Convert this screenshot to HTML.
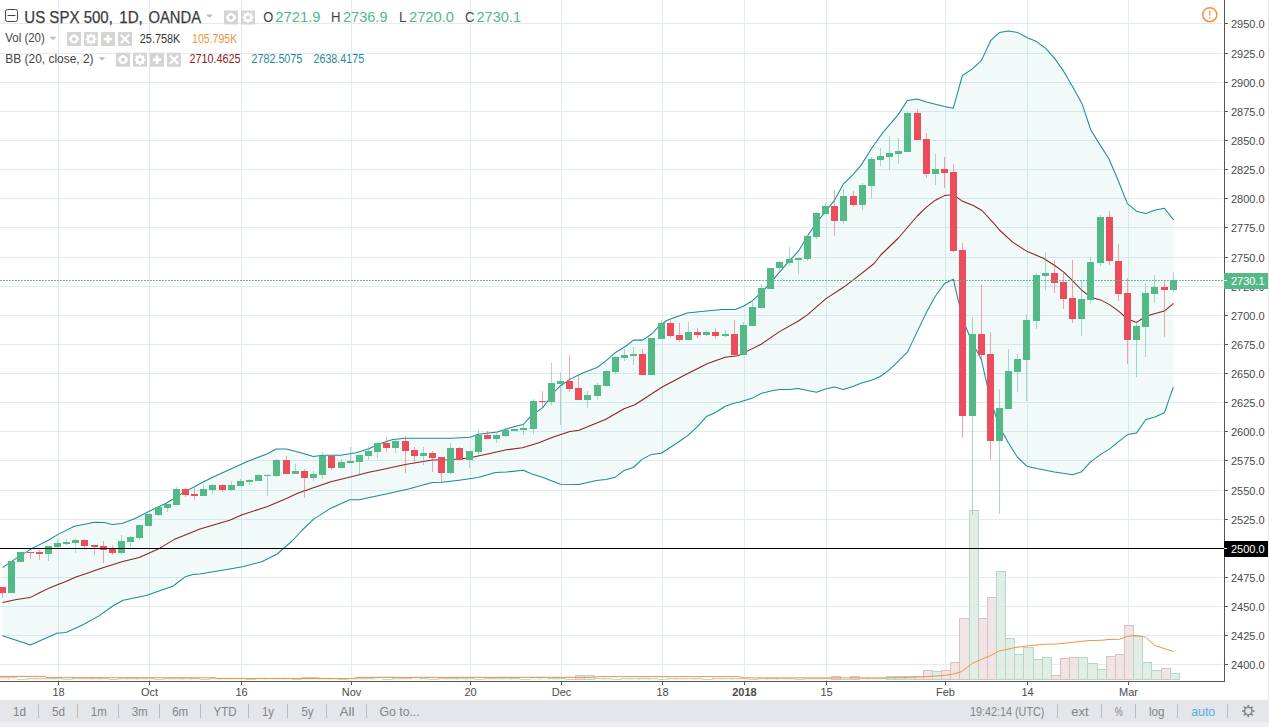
<!DOCTYPE html>
<html><head><meta charset="utf-8"><title>US SPX 500, 1D, OANDA</title>
<style>html,body{margin:0;padding:0;background:#fff;overflow:hidden}svg{display:block}text{white-space:pre}</style>
</head><body>
<svg width="1269" height="727" viewBox="0 0 1269 727" style="display:block">
<rect width="1269" height="727" fill="#fff"/>
<g shape-rendering="crispEdges" fill="#E1ECF2">
<rect x="0" y="664" width="1223" height="1"/>
<rect x="0" y="635" width="1223" height="1"/>
<rect x="0" y="606" width="1223" height="1"/>
<rect x="0" y="577" width="1223" height="1"/>
<rect x="0" y="548" width="1223" height="1"/>
<rect x="0" y="519" width="1223" height="1"/>
<rect x="0" y="490" width="1223" height="1"/>
<rect x="0" y="460" width="1223" height="1"/>
<rect x="0" y="431" width="1223" height="1"/>
<rect x="0" y="402" width="1223" height="1"/>
<rect x="0" y="373" width="1223" height="1"/>
<rect x="0" y="344" width="1223" height="1"/>
<rect x="0" y="315" width="1223" height="1"/>
<rect x="0" y="286" width="1223" height="1"/>
<rect x="0" y="257" width="1223" height="1"/>
<rect x="0" y="227" width="1223" height="1"/>
<rect x="0" y="198" width="1223" height="1"/>
<rect x="0" y="169" width="1223" height="1"/>
<rect x="0" y="140" width="1223" height="1"/>
<rect x="0" y="111" width="1223" height="1"/>
<rect x="0" y="82" width="1223" height="1"/>
<rect x="0" y="53" width="1223" height="1"/>
<rect x="0" y="23" width="1223" height="1"/>
<rect x="58" y="0" width="1" height="681"/>
<rect x="149" y="0" width="1" height="681"/>
<rect x="241" y="0" width="1" height="681"/>
<rect x="351" y="0" width="1" height="681"/>
<rect x="470" y="0" width="1" height="681"/>
<rect x="561" y="0" width="1" height="681"/>
<rect x="662" y="0" width="1" height="681"/>
<rect x="744" y="0" width="1" height="681"/>
<rect x="826" y="0" width="1" height="681"/>
<rect x="945" y="0" width="1" height="681"/>
<rect x="1027" y="0" width="1" height="681"/>
<rect x="1128" y="0" width="1" height="681"/>
</g>
<polygon points="2.5,567.6 15.8,558.6 31.6,548.6 47.5,540.7 58.5,534.1 74.4,526.2 94.9,522.2 104.4,522.5 112.3,524.6 121.8,523.5 134.5,518.7 148.7,511.5 166.1,503.2 174.0,498.5 186.7,490.6 194.0,487.0 201.1,483.0 213.7,476.7 229.6,469.6 248.5,460.9 267.5,453.8 276.2,449.0 286.5,449.0 300.8,452.7 313.4,456.5 322.9,455.3 340.3,455.3 356.1,452.7 368.8,448.7 378.3,444.3 392.7,439.6 405.3,438.3 451.2,438.3 470.2,437.2 478.1,434.3 497.1,432.0 505.8,429.3 514.5,426.4 523.2,424.5 530.3,416.9 536.6,412.2 543.0,407.4 549.3,398.7 554.2,392.0 560.6,385.7 570.1,379.1 582.7,373.0 597.0,367.5 606.5,360.4 615.9,352.2 625.4,346.5 633.4,340.1 642.8,340.1 652.3,333.5 658.7,326.4 666.6,320.5 676.1,316.9 687.2,312.9 706.1,311.0 722.0,309.4 735.1,309.5 743.4,306.2 752.5,300.7 761.5,292.4 770.6,282.8 779.7,271.8 789.3,260.8 798.4,251.2 807.5,236.0 816.6,222.3 825.6,211.3 834.4,200.3 843.5,183.8 853.4,174.1 861.0,165.4 872.0,147.8 883.0,132.4 898.4,114.4 907.4,100.5 917.3,99.0 926.4,102.0 944.4,106.4 953.3,108.2 962.4,75.5 972.4,68.9 981.5,60.4 990.6,40.7 999.3,32.6 1008.7,31.0 1017.8,32.6 1027.5,37.7 1036.6,41.6 1045.7,48.3 1055.0,58.9 1064.1,71.9 1073.2,87.7 1082.3,104.3 1090.8,130.0 1099.9,144.6 1108.9,158.8 1118.0,180.0 1127.4,203.6 1136.5,211.2 1145.6,213.6 1154.7,210.3 1164.3,208.2 1173.7,220.0 1173.3,387.2 1164.4,412.8 1155.0,417.1 1145.6,419.7 1136.7,432.9 1127.7,434.6 1118.3,441.8 1109.4,449.1 1100.4,454.6 1090.6,461.9 1081.7,471.7 1072.7,474.7 1054.4,471.9 1036.8,468.4 1026.9,466.2 1017.6,457.5 1008.5,443.0 999.5,427.0 990.5,400.0 981.4,359.8 972.0,342.0 962.5,319.0 953.4,279.3 944.6,283.5 935.5,296.0 926.9,311.4 917.2,331.6 907.6,351.9 898.3,361.1 889.3,369.8 880.2,376.5 871.0,380.4 862.3,382.7 852.7,386.5 843.4,389.4 834.4,387.1 825.7,389.1 816.5,392.3 807.4,390.4 798.4,388.5 789.1,389.4 779.5,389.4 770.8,391.0 761.6,393.3 752.5,398.1 740.0,402.0 734.8,403.1 725.3,406.3 715.9,412.2 706.4,416.6 697.7,426.4 688.2,435.1 677.1,443.0 661.3,453.3 651.5,454.4 642.3,459.1 633.3,467.5 624.1,470.4 615.1,477.3 605.9,479.4 596.4,480.5 579.0,484.5 560.4,484.2 543.0,477.5 531.9,473.9 523.2,470.3 506.6,472.0 495.5,472.6 478.1,477.5 459.1,480.2 441.7,482.3 432.2,482.6 408.5,488.9 386.2,494.1 376.7,496.0 359.3,499.7 349.8,499.7 329.2,509.1 313.4,519.4 302.3,530.0 292.6,540.5 277.2,554.0 261.8,561.7 242.6,566.7 231.0,568.7 200.0,574.1 193.0,574.4 185.1,576.8 173.3,586.0 146.3,595.6 123.2,600.2 113.9,605.2 99.0,615.9 82.5,625.0 66.0,632.4 56.9,633.3 30.5,645.0 2.5,635.8" fill="#008080" fill-opacity="0.05"/>
<g shape-rendering="crispEdges">
<rect x="-1" y="677" width="9" height="3" fill="#EDDFE0" fill-opacity="0.5"/>
<rect x="-1" y="677" width="9" height="1" fill="#D6C2C3" fill-opacity="0.9"/>
<rect x="-1" y="677" width="1" height="3" fill="#D6C2C3" fill-opacity="0.5"/>
<rect x="8" y="677" width="9" height="3" fill="#DDEBE1" fill-opacity="0.5"/>
<rect x="8" y="677" width="9" height="1" fill="#B2D9C5" fill-opacity="0.9"/>
<rect x="8" y="677" width="1" height="3" fill="#B2D9C5" fill-opacity="0.5"/>
<rect x="17" y="679" width="10" height="1" fill="#DDEBE1" fill-opacity="0.5"/>
<rect x="17" y="679" width="10" height="1" fill="#B2D9C5" fill-opacity="0.9"/>
<rect x="17" y="679" width="1" height="1" fill="#B2D9C5" fill-opacity="0.5"/>
<rect x="27" y="678" width="9" height="2" fill="#EDDFE0" fill-opacity="0.5"/>
<rect x="27" y="678" width="9" height="1" fill="#D6C2C3" fill-opacity="0.9"/>
<rect x="27" y="678" width="1" height="2" fill="#D6C2C3" fill-opacity="0.5"/>
<rect x="36" y="678" width="9" height="2" fill="#EDDFE0" fill-opacity="0.5"/>
<rect x="36" y="678" width="9" height="1" fill="#D6C2C3" fill-opacity="0.9"/>
<rect x="36" y="678" width="1" height="2" fill="#D6C2C3" fill-opacity="0.5"/>
<rect x="45" y="678" width="9" height="2" fill="#DDEBE1" fill-opacity="0.5"/>
<rect x="45" y="678" width="9" height="1" fill="#B2D9C5" fill-opacity="0.9"/>
<rect x="45" y="678" width="1" height="2" fill="#B2D9C5" fill-opacity="0.5"/>
<rect x="54" y="678" width="9" height="2" fill="#DDEBE1" fill-opacity="0.5"/>
<rect x="54" y="678" width="9" height="1" fill="#B2D9C5" fill-opacity="0.9"/>
<rect x="54" y="678" width="1" height="2" fill="#B2D9C5" fill-opacity="0.5"/>
<rect x="63" y="679" width="9" height="1" fill="#DDEBE1" fill-opacity="0.5"/>
<rect x="63" y="679" width="9" height="1" fill="#B2D9C5" fill-opacity="0.9"/>
<rect x="63" y="679" width="1" height="1" fill="#B2D9C5" fill-opacity="0.5"/>
<rect x="72" y="678" width="9" height="2" fill="#DDEBE1" fill-opacity="0.5"/>
<rect x="72" y="678" width="9" height="1" fill="#B2D9C5" fill-opacity="0.9"/>
<rect x="72" y="678" width="1" height="2" fill="#B2D9C5" fill-opacity="0.5"/>
<rect x="81" y="678" width="10" height="2" fill="#EDDFE0" fill-opacity="0.5"/>
<rect x="81" y="678" width="10" height="1" fill="#D6C2C3" fill-opacity="0.9"/>
<rect x="81" y="678" width="1" height="2" fill="#D6C2C3" fill-opacity="0.5"/>
<rect x="91" y="678" width="9" height="2" fill="#EDDFE0" fill-opacity="0.5"/>
<rect x="91" y="678" width="9" height="1" fill="#D6C2C3" fill-opacity="0.9"/>
<rect x="91" y="678" width="1" height="2" fill="#D6C2C3" fill-opacity="0.5"/>
<rect x="100" y="678" width="9" height="2" fill="#EDDFE0" fill-opacity="0.5"/>
<rect x="100" y="678" width="9" height="1" fill="#D6C2C3" fill-opacity="0.9"/>
<rect x="100" y="678" width="1" height="2" fill="#D6C2C3" fill-opacity="0.5"/>
<rect x="109" y="679" width="9" height="1" fill="#EDDFE0" fill-opacity="0.5"/>
<rect x="109" y="679" width="9" height="1" fill="#D6C2C3" fill-opacity="0.9"/>
<rect x="109" y="679" width="1" height="1" fill="#D6C2C3" fill-opacity="0.5"/>
<rect x="118" y="678" width="9" height="2" fill="#DDEBE1" fill-opacity="0.5"/>
<rect x="118" y="678" width="9" height="1" fill="#B2D9C5" fill-opacity="0.9"/>
<rect x="118" y="678" width="1" height="2" fill="#B2D9C5" fill-opacity="0.5"/>
<rect x="127" y="678" width="9" height="2" fill="#DDEBE1" fill-opacity="0.5"/>
<rect x="127" y="678" width="9" height="1" fill="#B2D9C5" fill-opacity="0.9"/>
<rect x="127" y="678" width="1" height="2" fill="#B2D9C5" fill-opacity="0.5"/>
<rect x="136" y="678" width="9" height="2" fill="#DDEBE1" fill-opacity="0.5"/>
<rect x="136" y="678" width="9" height="1" fill="#B2D9C5" fill-opacity="0.9"/>
<rect x="136" y="678" width="1" height="2" fill="#B2D9C5" fill-opacity="0.5"/>
<rect x="145" y="678" width="10" height="2" fill="#DDEBE1" fill-opacity="0.5"/>
<rect x="145" y="678" width="10" height="1" fill="#B2D9C5" fill-opacity="0.9"/>
<rect x="145" y="678" width="1" height="2" fill="#B2D9C5" fill-opacity="0.5"/>
<rect x="155" y="679" width="9" height="1" fill="#DDEBE1" fill-opacity="0.5"/>
<rect x="155" y="679" width="9" height="1" fill="#B2D9C5" fill-opacity="0.9"/>
<rect x="155" y="679" width="1" height="1" fill="#B2D9C5" fill-opacity="0.5"/>
<rect x="164" y="678" width="9" height="2" fill="#DDEBE1" fill-opacity="0.5"/>
<rect x="164" y="678" width="9" height="1" fill="#B2D9C5" fill-opacity="0.9"/>
<rect x="164" y="678" width="1" height="2" fill="#B2D9C5" fill-opacity="0.5"/>
<rect x="173" y="678" width="9" height="2" fill="#DDEBE1" fill-opacity="0.5"/>
<rect x="173" y="678" width="9" height="1" fill="#B2D9C5" fill-opacity="0.9"/>
<rect x="173" y="678" width="1" height="2" fill="#B2D9C5" fill-opacity="0.5"/>
<rect x="182" y="678" width="9" height="2" fill="#EDDFE0" fill-opacity="0.5"/>
<rect x="182" y="678" width="9" height="1" fill="#D6C2C3" fill-opacity="0.9"/>
<rect x="182" y="678" width="1" height="2" fill="#D6C2C3" fill-opacity="0.5"/>
<rect x="191" y="678" width="9" height="2" fill="#EDDFE0" fill-opacity="0.5"/>
<rect x="191" y="678" width="9" height="1" fill="#D6C2C3" fill-opacity="0.9"/>
<rect x="191" y="678" width="1" height="2" fill="#D6C2C3" fill-opacity="0.5"/>
<rect x="200" y="679" width="9" height="1" fill="#DDEBE1" fill-opacity="0.5"/>
<rect x="200" y="679" width="9" height="1" fill="#B2D9C5" fill-opacity="0.9"/>
<rect x="200" y="679" width="1" height="1" fill="#B2D9C5" fill-opacity="0.5"/>
<rect x="209" y="678" width="10" height="2" fill="#DDEBE1" fill-opacity="0.5"/>
<rect x="209" y="678" width="10" height="1" fill="#B2D9C5" fill-opacity="0.9"/>
<rect x="209" y="678" width="1" height="2" fill="#B2D9C5" fill-opacity="0.5"/>
<rect x="219" y="678" width="9" height="2" fill="#EDDFE0" fill-opacity="0.5"/>
<rect x="219" y="678" width="9" height="1" fill="#D6C2C3" fill-opacity="0.9"/>
<rect x="219" y="678" width="1" height="2" fill="#D6C2C3" fill-opacity="0.5"/>
<rect x="228" y="678" width="9" height="2" fill="#DDEBE1" fill-opacity="0.5"/>
<rect x="228" y="678" width="9" height="1" fill="#B2D9C5" fill-opacity="0.9"/>
<rect x="228" y="678" width="1" height="2" fill="#B2D9C5" fill-opacity="0.5"/>
<rect x="237" y="678" width="9" height="2" fill="#DDEBE1" fill-opacity="0.5"/>
<rect x="237" y="678" width="9" height="1" fill="#B2D9C5" fill-opacity="0.9"/>
<rect x="237" y="678" width="1" height="2" fill="#B2D9C5" fill-opacity="0.5"/>
<rect x="246" y="679" width="9" height="1" fill="#DDEBE1" fill-opacity="0.5"/>
<rect x="246" y="679" width="9" height="1" fill="#B2D9C5" fill-opacity="0.9"/>
<rect x="246" y="679" width="1" height="1" fill="#B2D9C5" fill-opacity="0.5"/>
<rect x="255" y="678" width="9" height="2" fill="#DDEBE1" fill-opacity="0.5"/>
<rect x="255" y="678" width="9" height="1" fill="#B2D9C5" fill-opacity="0.9"/>
<rect x="255" y="678" width="1" height="2" fill="#B2D9C5" fill-opacity="0.5"/>
<rect x="264" y="678" width="9" height="2" fill="#DDEBE1" fill-opacity="0.5"/>
<rect x="264" y="678" width="9" height="1" fill="#B2D9C5" fill-opacity="0.9"/>
<rect x="264" y="678" width="1" height="2" fill="#B2D9C5" fill-opacity="0.5"/>
<rect x="273" y="678" width="10" height="2" fill="#DDEBE1" fill-opacity="0.5"/>
<rect x="273" y="678" width="10" height="1" fill="#B2D9C5" fill-opacity="0.9"/>
<rect x="273" y="678" width="1" height="2" fill="#B2D9C5" fill-opacity="0.5"/>
<rect x="283" y="678" width="9" height="2" fill="#EDDFE0" fill-opacity="0.5"/>
<rect x="283" y="678" width="9" height="1" fill="#D6C2C3" fill-opacity="0.9"/>
<rect x="283" y="678" width="1" height="2" fill="#D6C2C3" fill-opacity="0.5"/>
<rect x="292" y="679" width="9" height="1" fill="#DDEBE1" fill-opacity="0.5"/>
<rect x="292" y="679" width="9" height="1" fill="#B2D9C5" fill-opacity="0.9"/>
<rect x="292" y="679" width="1" height="1" fill="#B2D9C5" fill-opacity="0.5"/>
<rect x="301" y="677" width="9" height="3" fill="#EDDFE0" fill-opacity="0.5"/>
<rect x="301" y="677" width="9" height="1" fill="#D6C2C3" fill-opacity="0.9"/>
<rect x="301" y="677" width="1" height="3" fill="#D6C2C3" fill-opacity="0.5"/>
<rect x="310" y="677" width="9" height="3" fill="#DDEBE1" fill-opacity="0.5"/>
<rect x="310" y="677" width="9" height="1" fill="#B2D9C5" fill-opacity="0.9"/>
<rect x="310" y="677" width="1" height="3" fill="#B2D9C5" fill-opacity="0.5"/>
<rect x="319" y="678" width="9" height="2" fill="#DDEBE1" fill-opacity="0.5"/>
<rect x="319" y="678" width="9" height="1" fill="#B2D9C5" fill-opacity="0.9"/>
<rect x="319" y="678" width="1" height="2" fill="#B2D9C5" fill-opacity="0.5"/>
<rect x="328" y="678" width="10" height="2" fill="#EDDFE0" fill-opacity="0.5"/>
<rect x="328" y="678" width="10" height="1" fill="#D6C2C3" fill-opacity="0.9"/>
<rect x="328" y="678" width="1" height="2" fill="#D6C2C3" fill-opacity="0.5"/>
<rect x="338" y="679" width="9" height="1" fill="#DDEBE1" fill-opacity="0.5"/>
<rect x="338" y="679" width="9" height="1" fill="#B2D9C5" fill-opacity="0.9"/>
<rect x="338" y="679" width="1" height="1" fill="#B2D9C5" fill-opacity="0.5"/>
<rect x="347" y="678" width="9" height="2" fill="#DDEBE1" fill-opacity="0.5"/>
<rect x="347" y="678" width="9" height="1" fill="#B2D9C5" fill-opacity="0.9"/>
<rect x="347" y="678" width="1" height="2" fill="#B2D9C5" fill-opacity="0.5"/>
<rect x="356" y="678" width="9" height="2" fill="#DDEBE1" fill-opacity="0.5"/>
<rect x="356" y="678" width="9" height="1" fill="#B2D9C5" fill-opacity="0.9"/>
<rect x="356" y="678" width="1" height="2" fill="#B2D9C5" fill-opacity="0.5"/>
<rect x="365" y="678" width="9" height="2" fill="#DDEBE1" fill-opacity="0.5"/>
<rect x="365" y="678" width="9" height="1" fill="#B2D9C5" fill-opacity="0.9"/>
<rect x="365" y="678" width="1" height="2" fill="#B2D9C5" fill-opacity="0.5"/>
<rect x="374" y="677" width="9" height="3" fill="#DDEBE1" fill-opacity="0.5"/>
<rect x="374" y="677" width="9" height="1" fill="#B2D9C5" fill-opacity="0.9"/>
<rect x="374" y="677" width="1" height="3" fill="#B2D9C5" fill-opacity="0.5"/>
<rect x="383" y="679" width="9" height="1" fill="#EDDFE0" fill-opacity="0.5"/>
<rect x="383" y="679" width="9" height="1" fill="#D6C2C3" fill-opacity="0.9"/>
<rect x="383" y="679" width="1" height="1" fill="#D6C2C3" fill-opacity="0.5"/>
<rect x="392" y="678" width="10" height="2" fill="#DDEBE1" fill-opacity="0.5"/>
<rect x="392" y="678" width="10" height="1" fill="#B2D9C5" fill-opacity="0.9"/>
<rect x="392" y="678" width="1" height="2" fill="#B2D9C5" fill-opacity="0.5"/>
<rect x="402" y="678" width="9" height="2" fill="#EDDFE0" fill-opacity="0.5"/>
<rect x="402" y="678" width="9" height="1" fill="#D6C2C3" fill-opacity="0.9"/>
<rect x="402" y="678" width="1" height="2" fill="#D6C2C3" fill-opacity="0.5"/>
<rect x="411" y="677" width="9" height="3" fill="#EDDFE0" fill-opacity="0.5"/>
<rect x="411" y="677" width="9" height="1" fill="#D6C2C3" fill-opacity="0.9"/>
<rect x="411" y="677" width="1" height="3" fill="#D6C2C3" fill-opacity="0.5"/>
<rect x="420" y="678" width="9" height="2" fill="#DDEBE1" fill-opacity="0.5"/>
<rect x="420" y="678" width="9" height="1" fill="#B2D9C5" fill-opacity="0.9"/>
<rect x="420" y="678" width="1" height="2" fill="#B2D9C5" fill-opacity="0.5"/>
<rect x="429" y="679" width="9" height="1" fill="#EDDFE0" fill-opacity="0.5"/>
<rect x="429" y="679" width="9" height="1" fill="#D6C2C3" fill-opacity="0.9"/>
<rect x="429" y="679" width="1" height="1" fill="#D6C2C3" fill-opacity="0.5"/>
<rect x="438" y="678" width="9" height="2" fill="#EDDFE0" fill-opacity="0.5"/>
<rect x="438" y="678" width="9" height="1" fill="#D6C2C3" fill-opacity="0.9"/>
<rect x="438" y="678" width="1" height="2" fill="#D6C2C3" fill-opacity="0.5"/>
<rect x="447" y="678" width="9" height="2" fill="#DDEBE1" fill-opacity="0.5"/>
<rect x="447" y="678" width="9" height="1" fill="#B2D9C5" fill-opacity="0.9"/>
<rect x="447" y="678" width="1" height="2" fill="#B2D9C5" fill-opacity="0.5"/>
<rect x="456" y="678" width="10" height="2" fill="#EDDFE0" fill-opacity="0.5"/>
<rect x="456" y="678" width="10" height="1" fill="#D6C2C3" fill-opacity="0.9"/>
<rect x="456" y="678" width="1" height="2" fill="#D6C2C3" fill-opacity="0.5"/>
<rect x="466" y="678" width="9" height="2" fill="#DDEBE1" fill-opacity="0.5"/>
<rect x="466" y="678" width="9" height="1" fill="#B2D9C5" fill-opacity="0.9"/>
<rect x="466" y="678" width="1" height="2" fill="#B2D9C5" fill-opacity="0.5"/>
<rect x="475" y="679" width="9" height="1" fill="#DDEBE1" fill-opacity="0.5"/>
<rect x="475" y="679" width="9" height="1" fill="#B2D9C5" fill-opacity="0.9"/>
<rect x="475" y="679" width="1" height="1" fill="#B2D9C5" fill-opacity="0.5"/>
<rect x="484" y="678" width="9" height="2" fill="#EDDFE0" fill-opacity="0.5"/>
<rect x="484" y="678" width="9" height="1" fill="#D6C2C3" fill-opacity="0.9"/>
<rect x="484" y="678" width="1" height="2" fill="#D6C2C3" fill-opacity="0.5"/>
<rect x="493" y="678" width="9" height="2" fill="#DDEBE1" fill-opacity="0.5"/>
<rect x="493" y="678" width="9" height="1" fill="#B2D9C5" fill-opacity="0.9"/>
<rect x="493" y="678" width="1" height="2" fill="#B2D9C5" fill-opacity="0.5"/>
<rect x="502" y="678" width="9" height="2" fill="#DDEBE1" fill-opacity="0.5"/>
<rect x="502" y="678" width="9" height="1" fill="#B2D9C5" fill-opacity="0.9"/>
<rect x="502" y="678" width="1" height="2" fill="#B2D9C5" fill-opacity="0.5"/>
<rect x="511" y="678" width="9" height="2" fill="#DDEBE1" fill-opacity="0.5"/>
<rect x="511" y="678" width="9" height="1" fill="#B2D9C5" fill-opacity="0.9"/>
<rect x="511" y="678" width="1" height="2" fill="#B2D9C5" fill-opacity="0.5"/>
<rect x="520" y="679" width="10" height="1" fill="#DDEBE1" fill-opacity="0.5"/>
<rect x="520" y="679" width="10" height="1" fill="#B2D9C5" fill-opacity="0.9"/>
<rect x="520" y="679" width="1" height="1" fill="#B2D9C5" fill-opacity="0.5"/>
<rect x="530" y="677" width="9" height="3" fill="#DDEBE1" fill-opacity="0.5"/>
<rect x="530" y="677" width="9" height="1" fill="#B2D9C5" fill-opacity="0.9"/>
<rect x="530" y="677" width="1" height="3" fill="#B2D9C5" fill-opacity="0.5"/>
<rect x="539" y="677" width="9" height="3" fill="#EDDFE0" fill-opacity="0.5"/>
<rect x="539" y="677" width="9" height="1" fill="#D6C2C3" fill-opacity="0.9"/>
<rect x="539" y="677" width="1" height="3" fill="#D6C2C3" fill-opacity="0.5"/>
<rect x="548" y="678" width="9" height="2" fill="#DDEBE1" fill-opacity="0.5"/>
<rect x="548" y="678" width="9" height="1" fill="#B2D9C5" fill-opacity="0.9"/>
<rect x="548" y="678" width="1" height="2" fill="#B2D9C5" fill-opacity="0.5"/>
<rect x="557" y="678" width="9" height="2" fill="#DDEBE1" fill-opacity="0.5"/>
<rect x="557" y="678" width="9" height="1" fill="#B2D9C5" fill-opacity="0.9"/>
<rect x="557" y="678" width="1" height="2" fill="#B2D9C5" fill-opacity="0.5"/>
<rect x="566" y="679" width="9" height="1" fill="#EDDFE0" fill-opacity="0.5"/>
<rect x="566" y="679" width="9" height="1" fill="#D6C2C3" fill-opacity="0.9"/>
<rect x="566" y="679" width="1" height="1" fill="#D6C2C3" fill-opacity="0.5"/>
<rect x="575.5" y="675.5" width="9" height="4" fill="#EDDFE0" fill-opacity="0.85" stroke="#D6C2C3" stroke-width="1"/>
<rect x="584.5" y="675.5" width="10" height="4" fill="#DDEBE1" fill-opacity="0.85" stroke="#B2D9C5" stroke-width="1"/>
<rect x="594" y="678" width="9" height="2" fill="#DDEBE1" fill-opacity="0.5"/>
<rect x="594" y="678" width="9" height="1" fill="#B2D9C5" fill-opacity="0.9"/>
<rect x="594" y="678" width="1" height="2" fill="#B2D9C5" fill-opacity="0.5"/>
<rect x="603" y="678" width="9" height="2" fill="#DDEBE1" fill-opacity="0.5"/>
<rect x="603" y="678" width="9" height="1" fill="#B2D9C5" fill-opacity="0.9"/>
<rect x="603" y="678" width="1" height="2" fill="#B2D9C5" fill-opacity="0.5"/>
<rect x="612" y="679" width="9" height="1" fill="#DDEBE1" fill-opacity="0.5"/>
<rect x="612" y="679" width="9" height="1" fill="#B2D9C5" fill-opacity="0.9"/>
<rect x="612" y="679" width="1" height="1" fill="#B2D9C5" fill-opacity="0.5"/>
<rect x="621" y="678" width="9" height="2" fill="#DDEBE1" fill-opacity="0.5"/>
<rect x="621" y="678" width="9" height="1" fill="#B2D9C5" fill-opacity="0.9"/>
<rect x="621" y="678" width="1" height="2" fill="#B2D9C5" fill-opacity="0.5"/>
<rect x="630" y="678" width="9" height="2" fill="#DDEBE1" fill-opacity="0.5"/>
<rect x="630" y="678" width="9" height="1" fill="#B2D9C5" fill-opacity="0.9"/>
<rect x="630" y="678" width="1" height="2" fill="#B2D9C5" fill-opacity="0.5"/>
<rect x="639" y="678" width="9" height="2" fill="#EDDFE0" fill-opacity="0.5"/>
<rect x="639" y="678" width="9" height="1" fill="#D6C2C3" fill-opacity="0.9"/>
<rect x="639" y="678" width="1" height="2" fill="#D6C2C3" fill-opacity="0.5"/>
<rect x="648" y="678" width="10" height="2" fill="#DDEBE1" fill-opacity="0.5"/>
<rect x="648" y="678" width="10" height="1" fill="#B2D9C5" fill-opacity="0.9"/>
<rect x="648" y="678" width="1" height="2" fill="#B2D9C5" fill-opacity="0.5"/>
<rect x="658" y="679" width="9" height="1" fill="#DDEBE1" fill-opacity="0.5"/>
<rect x="658" y="679" width="9" height="1" fill="#B2D9C5" fill-opacity="0.9"/>
<rect x="658" y="679" width="1" height="1" fill="#B2D9C5" fill-opacity="0.5"/>
<rect x="667" y="678" width="9" height="2" fill="#EDDFE0" fill-opacity="0.5"/>
<rect x="667" y="678" width="9" height="1" fill="#D6C2C3" fill-opacity="0.9"/>
<rect x="667" y="678" width="1" height="2" fill="#D6C2C3" fill-opacity="0.5"/>
<rect x="676" y="678" width="9" height="2" fill="#EDDFE0" fill-opacity="0.5"/>
<rect x="676" y="678" width="9" height="1" fill="#D6C2C3" fill-opacity="0.9"/>
<rect x="676" y="678" width="1" height="2" fill="#D6C2C3" fill-opacity="0.5"/>
<rect x="685" y="678" width="9" height="2" fill="#DDEBE1" fill-opacity="0.5"/>
<rect x="685" y="678" width="9" height="1" fill="#B2D9C5" fill-opacity="0.9"/>
<rect x="685" y="678" width="1" height="2" fill="#B2D9C5" fill-opacity="0.5"/>
<rect x="694" y="678" width="9" height="2" fill="#EDDFE0" fill-opacity="0.5"/>
<rect x="694" y="678" width="9" height="1" fill="#D6C2C3" fill-opacity="0.9"/>
<rect x="694" y="678" width="1" height="2" fill="#D6C2C3" fill-opacity="0.5"/>
<rect x="703" y="679" width="9" height="1" fill="#DDEBE1" fill-opacity="0.5"/>
<rect x="703" y="679" width="9" height="1" fill="#B2D9C5" fill-opacity="0.9"/>
<rect x="703" y="679" width="1" height="1" fill="#B2D9C5" fill-opacity="0.5"/>
<rect x="712" y="678" width="10" height="2" fill="#EDDFE0" fill-opacity="0.5"/>
<rect x="712" y="678" width="10" height="1" fill="#D6C2C3" fill-opacity="0.9"/>
<rect x="712" y="678" width="1" height="2" fill="#D6C2C3" fill-opacity="0.5"/>
<rect x="722" y="678" width="9" height="2" fill="#DDEBE1" fill-opacity="0.5"/>
<rect x="722" y="678" width="9" height="1" fill="#B2D9C5" fill-opacity="0.9"/>
<rect x="722" y="678" width="1" height="2" fill="#B2D9C5" fill-opacity="0.5"/>
<rect x="731" y="678" width="9" height="2" fill="#EDDFE0" fill-opacity="0.5"/>
<rect x="731" y="678" width="9" height="1" fill="#D6C2C3" fill-opacity="0.9"/>
<rect x="731" y="678" width="1" height="2" fill="#D6C2C3" fill-opacity="0.5"/>
<rect x="740" y="678" width="9" height="2" fill="#DDEBE1" fill-opacity="0.5"/>
<rect x="740" y="678" width="9" height="1" fill="#B2D9C5" fill-opacity="0.9"/>
<rect x="740" y="678" width="1" height="2" fill="#B2D9C5" fill-opacity="0.5"/>
<rect x="749" y="679" width="9" height="1" fill="#DDEBE1" fill-opacity="0.5"/>
<rect x="749" y="679" width="9" height="1" fill="#B2D9C5" fill-opacity="0.9"/>
<rect x="749" y="679" width="1" height="1" fill="#B2D9C5" fill-opacity="0.5"/>
<rect x="758" y="678" width="9" height="2" fill="#DDEBE1" fill-opacity="0.5"/>
<rect x="758" y="678" width="9" height="1" fill="#B2D9C5" fill-opacity="0.9"/>
<rect x="758" y="678" width="1" height="2" fill="#B2D9C5" fill-opacity="0.5"/>
<rect x="767" y="678" width="9" height="2" fill="#DDEBE1" fill-opacity="0.5"/>
<rect x="767" y="678" width="9" height="1" fill="#B2D9C5" fill-opacity="0.9"/>
<rect x="767" y="678" width="1" height="2" fill="#B2D9C5" fill-opacity="0.5"/>
<rect x="776" y="678" width="10" height="2" fill="#DDEBE1" fill-opacity="0.5"/>
<rect x="776" y="678" width="10" height="1" fill="#B2D9C5" fill-opacity="0.9"/>
<rect x="776" y="678" width="1" height="2" fill="#B2D9C5" fill-opacity="0.5"/>
<rect x="786" y="678" width="9" height="2" fill="#DDEBE1" fill-opacity="0.5"/>
<rect x="786" y="678" width="9" height="1" fill="#B2D9C5" fill-opacity="0.9"/>
<rect x="786" y="678" width="1" height="2" fill="#B2D9C5" fill-opacity="0.5"/>
<rect x="795" y="679" width="9" height="1" fill="#DDEBE1" fill-opacity="0.5"/>
<rect x="795" y="679" width="9" height="1" fill="#B2D9C5" fill-opacity="0.9"/>
<rect x="795" y="679" width="1" height="1" fill="#B2D9C5" fill-opacity="0.5"/>
<rect x="804" y="678" width="9" height="2" fill="#DDEBE1" fill-opacity="0.5"/>
<rect x="804" y="678" width="9" height="1" fill="#B2D9C5" fill-opacity="0.9"/>
<rect x="804" y="678" width="1" height="2" fill="#B2D9C5" fill-opacity="0.5"/>
<rect x="813" y="678" width="9" height="2" fill="#DDEBE1" fill-opacity="0.5"/>
<rect x="813" y="678" width="9" height="1" fill="#B2D9C5" fill-opacity="0.9"/>
<rect x="813" y="678" width="1" height="2" fill="#B2D9C5" fill-opacity="0.5"/>
<rect x="822" y="678" width="9" height="2" fill="#DDEBE1" fill-opacity="0.5"/>
<rect x="822" y="678" width="9" height="1" fill="#B2D9C5" fill-opacity="0.9"/>
<rect x="822" y="678" width="1" height="2" fill="#B2D9C5" fill-opacity="0.5"/>
<rect x="831.5" y="676.5" width="9" height="3" fill="#EDDFE0" fill-opacity="0.85" stroke="#D6C2C3" stroke-width="1"/>
<rect x="840" y="679" width="10" height="1" fill="#DDEBE1" fill-opacity="0.5"/>
<rect x="840" y="679" width="10" height="1" fill="#B2D9C5" fill-opacity="0.9"/>
<rect x="840" y="679" width="1" height="1" fill="#B2D9C5" fill-opacity="0.5"/>
<rect x="850.5" y="676.5" width="9" height="3" fill="#EDDFE0" fill-opacity="0.85" stroke="#D6C2C3" stroke-width="1"/>
<rect x="859" y="678" width="9" height="2" fill="#DDEBE1" fill-opacity="0.5"/>
<rect x="859" y="678" width="9" height="1" fill="#B2D9C5" fill-opacity="0.9"/>
<rect x="859" y="678" width="1" height="2" fill="#B2D9C5" fill-opacity="0.5"/>
<rect x="868" y="678" width="9" height="2" fill="#DDEBE1" fill-opacity="0.5"/>
<rect x="868" y="678" width="9" height="1" fill="#B2D9C5" fill-opacity="0.9"/>
<rect x="868" y="678" width="1" height="2" fill="#B2D9C5" fill-opacity="0.5"/>
<rect x="877" y="678" width="9" height="2" fill="#DDEBE1" fill-opacity="0.5"/>
<rect x="877" y="678" width="9" height="1" fill="#B2D9C5" fill-opacity="0.9"/>
<rect x="877" y="678" width="1" height="2" fill="#B2D9C5" fill-opacity="0.5"/>
<rect x="886.5" y="676.5" width="9" height="3" fill="#DDEBE1" fill-opacity="0.85" stroke="#B2D9C5" stroke-width="1"/>
<rect x="895.5" y="676.5" width="9" height="3" fill="#DDEBE1" fill-opacity="0.85" stroke="#B2D9C5" stroke-width="1"/>
<rect x="904.5" y="676.5" width="10" height="3" fill="#DDEBE1" fill-opacity="0.85" stroke="#B2D9C5" stroke-width="1"/>
<rect x="914.5" y="676.5" width="9" height="3" fill="#EDDFE0" fill-opacity="0.85" stroke="#D6C2C3" stroke-width="1"/>
<rect x="923.5" y="670.5" width="9" height="9" fill="#EDDFE0" fill-opacity="0.85" stroke="#D6C2C3" stroke-width="1"/>
<rect x="932.5" y="671.5" width="9" height="8" fill="#DDEBE1" fill-opacity="0.85" stroke="#B2D9C5" stroke-width="1"/>
<rect x="941.5" y="670.5" width="9" height="9" fill="#EDDFE0" fill-opacity="0.85" stroke="#D6C2C3" stroke-width="1"/>
<rect x="950.5" y="662.5" width="9" height="17" fill="#EDDFE0" fill-opacity="0.85" stroke="#D6C2C3" stroke-width="1"/>
<rect x="959.5" y="618.5" width="10" height="61" fill="#EDDFE0" fill-opacity="0.85" stroke="#D6C2C3" stroke-width="1"/>
<rect x="969.5" y="510.5" width="9" height="169" fill="#DDEBE1" fill-opacity="0.85" stroke="#B2D9C5" stroke-width="1"/>
<rect x="978.5" y="618.5" width="9" height="61" fill="#EDDFE0" fill-opacity="0.85" stroke="#D6C2C3" stroke-width="1"/>
<rect x="987.5" y="597.5" width="9" height="82" fill="#EDDFE0" fill-opacity="0.85" stroke="#D6C2C3" stroke-width="1"/>
<rect x="996.5" y="571.5" width="9" height="108" fill="#DDEBE1" fill-opacity="0.85" stroke="#B2D9C5" stroke-width="1"/>
<rect x="1005.5" y="638.5" width="9" height="41" fill="#DDEBE1" fill-opacity="0.85" stroke="#B2D9C5" stroke-width="1"/>
<rect x="1014.5" y="654.5" width="9" height="25" fill="#DDEBE1" fill-opacity="0.85" stroke="#B2D9C5" stroke-width="1"/>
<rect x="1023.5" y="647.5" width="10" height="32" fill="#DDEBE1" fill-opacity="0.85" stroke="#B2D9C5" stroke-width="1"/>
<rect x="1033.5" y="659.5" width="9" height="20" fill="#DDEBE1" fill-opacity="0.85" stroke="#B2D9C5" stroke-width="1"/>
<rect x="1042.5" y="657.5" width="9" height="22" fill="#DDEBE1" fill-opacity="0.85" stroke="#B2D9C5" stroke-width="1"/>
<rect x="1051.5" y="675.5" width="9" height="4" fill="#EDDFE0" fill-opacity="0.85" stroke="#D6C2C3" stroke-width="1"/>
<rect x="1060.5" y="658.5" width="9" height="21" fill="#EDDFE0" fill-opacity="0.85" stroke="#D6C2C3" stroke-width="1"/>
<rect x="1069.5" y="657.5" width="9" height="22" fill="#EDDFE0" fill-opacity="0.85" stroke="#D6C2C3" stroke-width="1"/>
<rect x="1078.5" y="657.5" width="9" height="22" fill="#DDEBE1" fill-opacity="0.85" stroke="#B2D9C5" stroke-width="1"/>
<rect x="1087.5" y="663.5" width="10" height="16" fill="#DDEBE1" fill-opacity="0.85" stroke="#B2D9C5" stroke-width="1"/>
<rect x="1097.5" y="669.5" width="9" height="10" fill="#DDEBE1" fill-opacity="0.85" stroke="#B2D9C5" stroke-width="1"/>
<rect x="1106.5" y="656.5" width="9" height="23" fill="#EDDFE0" fill-opacity="0.85" stroke="#D6C2C3" stroke-width="1"/>
<rect x="1115.5" y="654.5" width="9" height="25" fill="#EDDFE0" fill-opacity="0.85" stroke="#D6C2C3" stroke-width="1"/>
<rect x="1124.5" y="625.5" width="9" height="54" fill="#EDDFE0" fill-opacity="0.85" stroke="#D6C2C3" stroke-width="1"/>
<rect x="1133.5" y="636.5" width="9" height="43" fill="#DDEBE1" fill-opacity="0.85" stroke="#B2D9C5" stroke-width="1"/>
<rect x="1142.5" y="662.5" width="9" height="17" fill="#DDEBE1" fill-opacity="0.85" stroke="#B2D9C5" stroke-width="1"/>
<rect x="1151.5" y="670.5" width="10" height="9" fill="#DDEBE1" fill-opacity="0.85" stroke="#B2D9C5" stroke-width="1"/>
<rect x="1161.5" y="668.5" width="9" height="11" fill="#EDDFE0" fill-opacity="0.85" stroke="#D6C2C3" stroke-width="1"/>
<rect x="1170.5" y="673.5" width="9" height="6" fill="#DDEBE1" fill-opacity="0.85" stroke="#B2D9C5" stroke-width="1"/>
</g>
<polyline points="0.0,676.4 45.0,676.4 47.0,677.6 215.0,677.8 217.0,678.4 353.0,678.5 358.0,677.4 590.0,677.4 600.0,676.6 738.0,676.6 745.0,677.9 880.0,677.9 900.0,677.7 926.1,676.6 941.8,675.6 952.3,674.3 961.4,671.7 972.4,663.3 981.5,659.4 990.7,655.5 999.3,651.0 1015.0,647.6 1028.0,645.8 1046.3,644.2 1056.8,644.0 1072.5,642.4 1088.1,640.6 1101.2,640.3 1109.0,639.5 1119.5,639.3 1127.3,636.4 1136.5,635.4 1145.6,637.2 1154.8,645.5 1163.9,648.4 1173.6,651.6" fill="none" stroke="#F5913E" stroke-width="1"/>
<polyline points="2.5,567.6 15.8,558.6 31.6,548.6 47.5,540.7 58.5,534.1 74.4,526.2 94.9,522.2 104.4,522.5 112.3,524.6 121.8,523.5 134.5,518.7 148.7,511.5 166.1,503.2 174.0,498.5 186.7,490.6 194.0,487.0 201.1,483.0 213.7,476.7 229.6,469.6 248.5,460.9 267.5,453.8 276.2,449.0 286.5,449.0 300.8,452.7 313.4,456.5 322.9,455.3 340.3,455.3 356.1,452.7 368.8,448.7 378.3,444.3 392.7,439.6 405.3,438.3 451.2,438.3 470.2,437.2 478.1,434.3 497.1,432.0 505.8,429.3 514.5,426.4 523.2,424.5 530.3,416.9 536.6,412.2 543.0,407.4 549.3,398.7 554.2,392.0 560.6,385.7 570.1,379.1 582.7,373.0 597.0,367.5 606.5,360.4 615.9,352.2 625.4,346.5 633.4,340.1 642.8,340.1 652.3,333.5 658.7,326.4 666.6,320.5 676.1,316.9 687.2,312.9 706.1,311.0 722.0,309.4 735.1,309.5 743.4,306.2 752.5,300.7 761.5,292.4 770.6,282.8 779.7,271.8 789.3,260.8 798.4,251.2 807.5,236.0 816.6,222.3 825.6,211.3 834.4,200.3 843.5,183.8 853.4,174.1 861.0,165.4 872.0,147.8 883.0,132.4 898.4,114.4 907.4,100.5 917.3,99.0 926.4,102.0 944.4,106.4 953.3,108.2 962.4,75.5 972.4,68.9 981.5,60.4 990.6,40.7 999.3,32.6 1008.7,31.0 1017.8,32.6 1027.5,37.7 1036.6,41.6 1045.7,48.3 1055.0,58.9 1064.1,71.9 1073.2,87.7 1082.3,104.3 1090.8,130.0 1099.9,144.6 1108.9,158.8 1118.0,180.0 1127.4,203.6 1136.5,211.2 1145.6,213.6 1154.7,210.3 1164.3,208.2 1173.7,220.0" fill="none" stroke="#1E8A98" stroke-width="1.05" stroke-linejoin="round"/>
<polyline points="2.5,635.8 30.5,645.0 56.9,633.3 66.0,632.4 82.5,625.0 99.0,615.9 113.9,605.2 123.2,600.2 146.3,595.6 173.3,586.0 185.1,576.8 193.0,574.4 200.0,574.1 231.0,568.7 242.6,566.7 261.8,561.7 277.2,554.0 292.6,540.5 302.3,530.0 313.4,519.4 329.2,509.1 349.8,499.7 359.3,499.7 376.7,496.0 386.2,494.1 408.5,488.9 432.2,482.6 441.7,482.3 459.1,480.2 478.1,477.5 495.5,472.6 506.6,472.0 523.2,470.3 531.9,473.9 543.0,477.5 560.4,484.2 579.0,484.5 596.4,480.5 605.9,479.4 615.1,477.3 624.1,470.4 633.3,467.5 642.3,459.1 651.5,454.4 661.3,453.3 677.1,443.0 688.2,435.1 697.7,426.4 706.4,416.6 715.9,412.2 725.3,406.3 734.8,403.1 740.0,402.0 752.5,398.1 761.6,393.3 770.8,391.0 779.5,389.4 789.1,389.4 798.4,388.5 807.4,390.4 816.5,392.3 825.7,389.1 834.4,387.1 843.4,389.4 852.7,386.5 862.3,382.7 871.0,380.4 880.2,376.5 889.3,369.8 898.3,361.1 907.6,351.9 917.2,331.6 926.9,311.4 935.5,296.0 944.6,283.5 953.4,279.3 962.5,319.0 972.0,342.0 981.4,359.8 990.5,400.0 999.5,427.0 1008.5,443.0 1017.6,457.5 1026.9,466.2 1036.8,468.4 1054.4,471.9 1072.7,474.7 1081.7,471.7 1090.6,461.9 1100.4,454.6 1109.4,449.1 1118.3,441.8 1127.7,434.6 1136.7,432.9 1145.6,419.7 1155.0,417.1 1164.4,412.8 1173.3,387.2" fill="none" stroke="#1E8A98" stroke-width="1.05" stroke-linejoin="round"/>
<polyline points="2.5,602.6 16.5,599.4 30.5,597.4 39.6,592.8 49.5,587.9 58.6,584.2 66.0,581.6 75.9,577.1 85.8,573.8 99.0,568.9 121.8,561.8 139.2,557.5 158.2,549.1 174.0,539.6 200.0,528.9 229.6,520.2 242.2,514.7 267.5,506.5 286.5,498.5 297.6,493.3 313.4,487.8 330.8,481.8 351.4,476.7 368.8,472.3 380.0,469.9 405.3,464.4 432.2,460.1 449.6,459.7 468.6,458.1 487.6,454.1 506.6,449.8 522.4,447.8 538.2,443.0 554.0,436.7 569.9,431.5 579.0,430.3 605.9,419.3 624.1,408.7 634.9,404.7 661.8,387.3 687.2,373.8 707.7,363.5 725.1,357.2 737.9,355.7 747.7,350.9 761.2,344.2 779.5,331.6 798.4,321.0 807.4,314.9 825.7,298.9 843.4,287.3 853.7,279.6 874.1,263.5 880.8,255.0 898.4,238.0 917.3,216.0 926.4,207.2 935.4,200.2 944.4,195.6 953.4,194.7 962.5,201.3 973.2,205.5 982.0,210.5 995.2,224.8 999.4,230.0 1012.6,242.1 1027.4,251.6 1043.4,258.2 1054.4,265.2 1063.5,271.8 1072.5,280.6 1081.5,290.0 1090.7,297.2 1100.6,299.9 1109.5,304.6 1118.6,311.1 1127.5,319.0 1136.7,322.4 1145.6,316.3 1154.4,313.7 1164.4,311.1 1173.5,303.3" fill="none" stroke="#872323" stroke-width="1.05" stroke-linejoin="round"/>
<g shape-rendering="crispEdges">
<rect x="2" y="587" width="1" height="11" fill="#EB4D5C" fill-opacity="0.5"/>
<rect x="-1" y="587" width="7" height="6" fill="#EB4D5C"/>
<rect x="11" y="561" width="1" height="32" fill="#53B987" fill-opacity="0.5"/>
<rect x="8" y="561" width="7" height="32" fill="#53B987"/>
<rect x="20" y="552" width="1" height="10" fill="#53B987" fill-opacity="0.5"/>
<rect x="17" y="552" width="7" height="10" fill="#53B987"/>
<rect x="30" y="552" width="1" height="7" fill="#EB4D5C" fill-opacity="0.5"/>
<rect x="27" y="552" width="7" height="1" fill="#EB4D5C"/>
<rect x="39" y="550" width="1" height="10" fill="#EB4D5C" fill-opacity="0.5"/>
<rect x="36" y="552" width="7" height="2" fill="#EB4D5C"/>
<rect x="48" y="546" width="1" height="15" fill="#53B987" fill-opacity="0.5"/>
<rect x="45" y="546" width="7" height="8" fill="#53B987"/>
<rect x="57" y="539" width="1" height="9" fill="#53B987" fill-opacity="0.5"/>
<rect x="54" y="543" width="7" height="4" fill="#53B987"/>
<rect x="66" y="539" width="1" height="6" fill="#53B987" fill-opacity="0.5"/>
<rect x="63" y="542" width="7" height="2" fill="#53B987"/>
<rect x="75" y="538" width="1" height="15" fill="#53B987" fill-opacity="0.5"/>
<rect x="72" y="540" width="7" height="3" fill="#53B987"/>
<rect x="84" y="539" width="1" height="11" fill="#EB4D5C" fill-opacity="0.5"/>
<rect x="81" y="540" width="7" height="6" fill="#EB4D5C"/>
<rect x="94" y="545" width="1" height="10" fill="#EB4D5C" fill-opacity="0.5"/>
<rect x="91" y="545" width="7" height="2" fill="#EB4D5C"/>
<rect x="103" y="541" width="1" height="22" fill="#EB4D5C" fill-opacity="0.5"/>
<rect x="100" y="546" width="7" height="4" fill="#EB4D5C"/>
<rect x="112" y="545" width="1" height="10" fill="#EB4D5C" fill-opacity="0.5"/>
<rect x="109" y="549" width="7" height="4" fill="#EB4D5C"/>
<rect x="121" y="535" width="1" height="19" fill="#53B987" fill-opacity="0.5"/>
<rect x="118" y="541" width="7" height="12" fill="#53B987"/>
<rect x="130" y="536" width="1" height="11" fill="#53B987" fill-opacity="0.5"/>
<rect x="127" y="537" width="7" height="5" fill="#53B987"/>
<rect x="139" y="525" width="1" height="15" fill="#53B987" fill-opacity="0.5"/>
<rect x="136" y="525" width="7" height="13" fill="#53B987"/>
<rect x="148" y="514" width="1" height="12" fill="#53B987" fill-opacity="0.5"/>
<rect x="145" y="514" width="7" height="12" fill="#53B987"/>
<rect x="158" y="506" width="1" height="10" fill="#53B987" fill-opacity="0.5"/>
<rect x="155" y="507" width="7" height="8" fill="#53B987"/>
<rect x="167" y="504" width="1" height="8" fill="#53B987" fill-opacity="0.5"/>
<rect x="164" y="504" width="7" height="4" fill="#53B987"/>
<rect x="176" y="487" width="1" height="18" fill="#53B987" fill-opacity="0.5"/>
<rect x="173" y="489" width="7" height="16" fill="#53B987"/>
<rect x="185" y="488" width="1" height="9" fill="#EB4D5C" fill-opacity="0.5"/>
<rect x="182" y="489" width="7" height="6" fill="#EB4D5C"/>
<rect x="194" y="488" width="1" height="12" fill="#EB4D5C" fill-opacity="0.5"/>
<rect x="191" y="494" width="7" height="2" fill="#EB4D5C"/>
<rect x="203" y="485" width="1" height="11" fill="#53B987" fill-opacity="0.5"/>
<rect x="200" y="489" width="7" height="7" fill="#53B987"/>
<rect x="212" y="484" width="1" height="10" fill="#53B987" fill-opacity="0.5"/>
<rect x="209" y="485" width="7" height="5" fill="#53B987"/>
<rect x="222" y="484" width="1" height="8" fill="#EB4D5C" fill-opacity="0.5"/>
<rect x="219" y="485" width="7" height="5" fill="#EB4D5C"/>
<rect x="231" y="481" width="1" height="10" fill="#53B987" fill-opacity="0.5"/>
<rect x="228" y="485" width="7" height="5" fill="#53B987"/>
<rect x="240" y="479" width="1" height="7" fill="#53B987" fill-opacity="0.5"/>
<rect x="237" y="481" width="7" height="5" fill="#53B987"/>
<rect x="249" y="479" width="1" height="6" fill="#53B987" fill-opacity="0.5"/>
<rect x="246" y="480" width="7" height="2" fill="#53B987"/>
<rect x="258" y="474" width="1" height="7" fill="#53B987" fill-opacity="0.5"/>
<rect x="255" y="475" width="7" height="6" fill="#53B987"/>
<rect x="267" y="474" width="1" height="22" fill="#53B987" fill-opacity="0.5"/>
<rect x="264" y="475" width="7" height="1" fill="#53B987"/>
<rect x="276" y="459" width="1" height="18" fill="#53B987" fill-opacity="0.5"/>
<rect x="273" y="460" width="7" height="16" fill="#53B987"/>
<rect x="286" y="456" width="1" height="18" fill="#EB4D5C" fill-opacity="0.5"/>
<rect x="283" y="460" width="7" height="14" fill="#EB4D5C"/>
<rect x="295" y="464" width="1" height="10" fill="#53B987" fill-opacity="0.5"/>
<rect x="292" y="471" width="7" height="3" fill="#53B987"/>
<rect x="304" y="469" width="1" height="29" fill="#EB4D5C" fill-opacity="0.5"/>
<rect x="301" y="471" width="7" height="7" fill="#EB4D5C"/>
<rect x="313" y="471" width="1" height="10" fill="#53B987" fill-opacity="0.5"/>
<rect x="310" y="474" width="7" height="4" fill="#53B987"/>
<rect x="322" y="452" width="1" height="27" fill="#53B987" fill-opacity="0.5"/>
<rect x="319" y="456" width="7" height="19" fill="#53B987"/>
<rect x="331" y="455" width="1" height="15" fill="#EB4D5C" fill-opacity="0.5"/>
<rect x="328" y="456" width="7" height="12" fill="#EB4D5C"/>
<rect x="341" y="459" width="1" height="9" fill="#53B987" fill-opacity="0.5"/>
<rect x="338" y="462" width="7" height="6" fill="#53B987"/>
<rect x="350" y="447" width="1" height="16" fill="#53B987" fill-opacity="0.5"/>
<rect x="347" y="461" width="7" height="2" fill="#53B987"/>
<rect x="359" y="455" width="1" height="19" fill="#53B987" fill-opacity="0.5"/>
<rect x="356" y="455" width="7" height="7" fill="#53B987"/>
<rect x="368" y="447" width="1" height="13" fill="#53B987" fill-opacity="0.5"/>
<rect x="365" y="451" width="7" height="5" fill="#53B987"/>
<rect x="377" y="442" width="1" height="16" fill="#53B987" fill-opacity="0.5"/>
<rect x="374" y="443" width="7" height="9" fill="#53B987"/>
<rect x="386" y="437" width="1" height="15" fill="#EB4D5C" fill-opacity="0.5"/>
<rect x="383" y="443" width="7" height="5" fill="#EB4D5C"/>
<rect x="395" y="439" width="1" height="14" fill="#53B987" fill-opacity="0.5"/>
<rect x="392" y="441" width="7" height="7" fill="#53B987"/>
<rect x="405" y="436" width="1" height="37" fill="#EB4D5C" fill-opacity="0.5"/>
<rect x="402" y="441" width="7" height="10" fill="#EB4D5C"/>
<rect x="414" y="447" width="1" height="17" fill="#EB4D5C" fill-opacity="0.5"/>
<rect x="411" y="450" width="7" height="6" fill="#EB4D5C"/>
<rect x="423" y="447" width="1" height="18" fill="#53B987" fill-opacity="0.5"/>
<rect x="420" y="453" width="7" height="3" fill="#53B987"/>
<rect x="432" y="451" width="1" height="21" fill="#EB4D5C" fill-opacity="0.5"/>
<rect x="429" y="453" width="7" height="5" fill="#EB4D5C"/>
<rect x="441" y="457" width="1" height="25" fill="#EB4D5C" fill-opacity="0.5"/>
<rect x="438" y="457" width="7" height="16" fill="#EB4D5C"/>
<rect x="450" y="443" width="1" height="31" fill="#53B987" fill-opacity="0.5"/>
<rect x="447" y="448" width="7" height="25" fill="#53B987"/>
<rect x="459" y="447" width="1" height="13" fill="#EB4D5C" fill-opacity="0.5"/>
<rect x="456" y="448" width="7" height="12" fill="#EB4D5C"/>
<rect x="469" y="451" width="1" height="17" fill="#53B987" fill-opacity="0.5"/>
<rect x="466" y="451" width="7" height="9" fill="#53B987"/>
<rect x="478" y="430" width="1" height="25" fill="#53B987" fill-opacity="0.5"/>
<rect x="475" y="435" width="7" height="17" fill="#53B987"/>
<rect x="487" y="431" width="1" height="8" fill="#EB4D5C" fill-opacity="0.5"/>
<rect x="484" y="435" width="7" height="4" fill="#EB4D5C"/>
<rect x="496" y="433" width="1" height="10" fill="#53B987" fill-opacity="0.5"/>
<rect x="493" y="435" width="7" height="4" fill="#53B987"/>
<rect x="505" y="427" width="1" height="10" fill="#53B987" fill-opacity="0.5"/>
<rect x="502" y="430" width="7" height="6" fill="#53B987"/>
<rect x="514" y="429" width="1" height="2" fill="#53B987" fill-opacity="0.5"/>
<rect x="511" y="429" width="7" height="2" fill="#53B987"/>
<rect x="523" y="425" width="1" height="10" fill="#53B987" fill-opacity="0.5"/>
<rect x="520" y="428" width="7" height="2" fill="#53B987"/>
<rect x="533" y="399" width="1" height="35" fill="#53B987" fill-opacity="0.5"/>
<rect x="530" y="401" width="7" height="28" fill="#53B987"/>
<rect x="542" y="391" width="1" height="17" fill="#EB4D5C" fill-opacity="0.5"/>
<rect x="539" y="401" width="7" height="1" fill="#EB4D5C"/>
<rect x="551" y="363" width="1" height="42" fill="#53B987" fill-opacity="0.5"/>
<rect x="548" y="383" width="7" height="19" fill="#53B987"/>
<rect x="560" y="372" width="1" height="53" fill="#53B987" fill-opacity="0.5"/>
<rect x="557" y="381" width="7" height="3" fill="#53B987"/>
<rect x="569" y="355" width="1" height="37" fill="#EB4D5C" fill-opacity="0.5"/>
<rect x="566" y="381" width="7" height="8" fill="#EB4D5C"/>
<rect x="578" y="374" width="1" height="26" fill="#EB4D5C" fill-opacity="0.5"/>
<rect x="575" y="388" width="7" height="12" fill="#EB4D5C"/>
<rect x="587" y="391" width="1" height="17" fill="#53B987" fill-opacity="0.5"/>
<rect x="584" y="395" width="7" height="5" fill="#53B987"/>
<rect x="597" y="383" width="1" height="17" fill="#53B987" fill-opacity="0.5"/>
<rect x="594" y="385" width="7" height="11" fill="#53B987"/>
<rect x="606" y="370" width="1" height="17" fill="#53B987" fill-opacity="0.5"/>
<rect x="603" y="371" width="7" height="15" fill="#53B987"/>
<rect x="615" y="356" width="1" height="18" fill="#53B987" fill-opacity="0.5"/>
<rect x="612" y="357" width="7" height="15" fill="#53B987"/>
<rect x="624" y="349" width="1" height="12" fill="#53B987" fill-opacity="0.5"/>
<rect x="621" y="355" width="7" height="3" fill="#53B987"/>
<rect x="633" y="347" width="1" height="18" fill="#53B987" fill-opacity="0.5"/>
<rect x="630" y="354" width="7" height="2" fill="#53B987"/>
<rect x="642" y="349" width="1" height="26" fill="#EB4D5C" fill-opacity="0.5"/>
<rect x="639" y="354" width="7" height="21" fill="#EB4D5C"/>
<rect x="651" y="338" width="1" height="37" fill="#53B987" fill-opacity="0.5"/>
<rect x="648" y="338" width="7" height="37" fill="#53B987"/>
<rect x="661" y="320" width="1" height="19" fill="#53B987" fill-opacity="0.5"/>
<rect x="658" y="323" width="7" height="16" fill="#53B987"/>
<rect x="670" y="320" width="1" height="18" fill="#EB4D5C" fill-opacity="0.5"/>
<rect x="667" y="323" width="7" height="13" fill="#EB4D5C"/>
<rect x="679" y="323" width="1" height="19" fill="#EB4D5C" fill-opacity="0.5"/>
<rect x="676" y="335" width="7" height="5" fill="#EB4D5C"/>
<rect x="688" y="322" width="1" height="18" fill="#53B987" fill-opacity="0.5"/>
<rect x="685" y="332" width="7" height="8" fill="#53B987"/>
<rect x="697" y="328" width="1" height="10" fill="#EB4D5C" fill-opacity="0.5"/>
<rect x="694" y="332" width="7" height="3" fill="#EB4D5C"/>
<rect x="706" y="330" width="1" height="6" fill="#53B987" fill-opacity="0.5"/>
<rect x="703" y="332" width="7" height="3" fill="#53B987"/>
<rect x="715" y="328" width="1" height="11" fill="#EB4D5C" fill-opacity="0.5"/>
<rect x="712" y="332" width="7" height="4" fill="#EB4D5C"/>
<rect x="725" y="330" width="1" height="7" fill="#53B987" fill-opacity="0.5"/>
<rect x="722" y="334" width="7" height="2" fill="#53B987"/>
<rect x="734" y="320" width="1" height="35" fill="#EB4D5C" fill-opacity="0.5"/>
<rect x="731" y="334" width="7" height="21" fill="#EB4D5C"/>
<rect x="743" y="322" width="1" height="33" fill="#53B987" fill-opacity="0.5"/>
<rect x="740" y="325" width="7" height="30" fill="#53B987"/>
<rect x="752" y="302" width="1" height="24" fill="#53B987" fill-opacity="0.5"/>
<rect x="749" y="307" width="7" height="19" fill="#53B987"/>
<rect x="761" y="284" width="1" height="24" fill="#53B987" fill-opacity="0.5"/>
<rect x="758" y="288" width="7" height="20" fill="#53B987"/>
<rect x="770" y="268" width="1" height="21" fill="#53B987" fill-opacity="0.5"/>
<rect x="767" y="268" width="7" height="21" fill="#53B987"/>
<rect x="779" y="261" width="1" height="11" fill="#53B987" fill-opacity="0.5"/>
<rect x="776" y="262" width="7" height="6" fill="#53B987"/>
<rect x="789" y="247" width="1" height="19" fill="#53B987" fill-opacity="0.5"/>
<rect x="786" y="259" width="7" height="4" fill="#53B987"/>
<rect x="798" y="258" width="1" height="16" fill="#53B987" fill-opacity="0.5"/>
<rect x="795" y="258" width="7" height="2" fill="#53B987"/>
<rect x="807" y="235" width="1" height="26" fill="#53B987" fill-opacity="0.5"/>
<rect x="804" y="236" width="7" height="23" fill="#53B987"/>
<rect x="816" y="212" width="1" height="27" fill="#53B987" fill-opacity="0.5"/>
<rect x="813" y="213" width="7" height="24" fill="#53B987"/>
<rect x="825" y="203" width="1" height="11" fill="#53B987" fill-opacity="0.5"/>
<rect x="822" y="206" width="7" height="8" fill="#53B987"/>
<rect x="834" y="190" width="1" height="46" fill="#EB4D5C" fill-opacity="0.5"/>
<rect x="831" y="206" width="7" height="15" fill="#EB4D5C"/>
<rect x="843" y="189" width="1" height="35" fill="#53B987" fill-opacity="0.5"/>
<rect x="840" y="196" width="7" height="25" fill="#53B987"/>
<rect x="853" y="191" width="1" height="16" fill="#EB4D5C" fill-opacity="0.5"/>
<rect x="850" y="196" width="7" height="9" fill="#EB4D5C"/>
<rect x="862" y="183" width="1" height="27" fill="#53B987" fill-opacity="0.5"/>
<rect x="859" y="185" width="7" height="20" fill="#53B987"/>
<rect x="871" y="157" width="1" height="41" fill="#53B987" fill-opacity="0.5"/>
<rect x="868" y="159" width="7" height="27" fill="#53B987"/>
<rect x="880" y="148" width="1" height="18" fill="#53B987" fill-opacity="0.5"/>
<rect x="877" y="156" width="7" height="4" fill="#53B987"/>
<rect x="889" y="136" width="1" height="34" fill="#53B987" fill-opacity="0.5"/>
<rect x="886" y="153" width="7" height="4" fill="#53B987"/>
<rect x="898" y="138" width="1" height="26" fill="#53B987" fill-opacity="0.5"/>
<rect x="895" y="151" width="7" height="3" fill="#53B987"/>
<rect x="907" y="112" width="1" height="40" fill="#53B987" fill-opacity="0.5"/>
<rect x="904" y="113" width="7" height="39" fill="#53B987"/>
<rect x="917" y="109" width="1" height="31" fill="#EB4D5C" fill-opacity="0.5"/>
<rect x="914" y="113" width="7" height="27" fill="#EB4D5C"/>
<rect x="926" y="133" width="1" height="45" fill="#EB4D5C" fill-opacity="0.5"/>
<rect x="923" y="139" width="7" height="35" fill="#EB4D5C"/>
<rect x="935" y="154" width="1" height="31" fill="#53B987" fill-opacity="0.5"/>
<rect x="932" y="169" width="7" height="5" fill="#53B987"/>
<rect x="944" y="157" width="1" height="31" fill="#EB4D5C" fill-opacity="0.5"/>
<rect x="941" y="169" width="7" height="4" fill="#EB4D5C"/>
<rect x="953" y="164" width="1" height="88" fill="#EB4D5C" fill-opacity="0.5"/>
<rect x="950" y="172" width="7" height="79" fill="#EB4D5C"/>
<rect x="962" y="243" width="1" height="195" fill="#EB4D5C" fill-opacity="0.5"/>
<rect x="959" y="250" width="7" height="166" fill="#EB4D5C"/>
<rect x="972" y="317" width="1" height="198" fill="#53B987" fill-opacity="0.5"/>
<rect x="969" y="334" width="7" height="82" fill="#53B987"/>
<rect x="981" y="285" width="1" height="77" fill="#EB4D5C" fill-opacity="0.5"/>
<rect x="978" y="334" width="7" height="21" fill="#EB4D5C"/>
<rect x="990" y="332" width="1" height="128" fill="#EB4D5C" fill-opacity="0.5"/>
<rect x="987" y="354" width="7" height="87" fill="#EB4D5C"/>
<rect x="999" y="389" width="1" height="125" fill="#53B987" fill-opacity="0.5"/>
<rect x="996" y="408" width="7" height="33" fill="#53B987"/>
<rect x="1008" y="349" width="1" height="60" fill="#53B987" fill-opacity="0.5"/>
<rect x="1005" y="371" width="7" height="38" fill="#53B987"/>
<rect x="1017" y="354" width="1" height="38" fill="#53B987" fill-opacity="0.5"/>
<rect x="1014" y="359" width="7" height="13" fill="#53B987"/>
<rect x="1026" y="314" width="1" height="87" fill="#53B987" fill-opacity="0.5"/>
<rect x="1023" y="320" width="7" height="40" fill="#53B987"/>
<rect x="1036" y="273" width="1" height="56" fill="#53B987" fill-opacity="0.5"/>
<rect x="1033" y="275" width="7" height="46" fill="#53B987"/>
<rect x="1045" y="252" width="1" height="38" fill="#53B987" fill-opacity="0.5"/>
<rect x="1042" y="273" width="7" height="3" fill="#53B987"/>
<rect x="1054" y="260" width="1" height="33" fill="#EB4D5C" fill-opacity="0.5"/>
<rect x="1051" y="273" width="7" height="10" fill="#EB4D5C"/>
<rect x="1063" y="273" width="1" height="36" fill="#EB4D5C" fill-opacity="0.5"/>
<rect x="1060" y="282" width="7" height="17" fill="#EB4D5C"/>
<rect x="1072" y="260" width="1" height="63" fill="#EB4D5C" fill-opacity="0.5"/>
<rect x="1069" y="298" width="7" height="21" fill="#EB4D5C"/>
<rect x="1081" y="281" width="1" height="55" fill="#53B987" fill-opacity="0.5"/>
<rect x="1078" y="299" width="7" height="20" fill="#53B987"/>
<rect x="1090" y="257" width="1" height="47" fill="#53B987" fill-opacity="0.5"/>
<rect x="1087" y="262" width="7" height="38" fill="#53B987"/>
<rect x="1100" y="215" width="1" height="51" fill="#53B987" fill-opacity="0.5"/>
<rect x="1097" y="217" width="7" height="46" fill="#53B987"/>
<rect x="1109" y="211" width="1" height="54" fill="#EB4D5C" fill-opacity="0.5"/>
<rect x="1106" y="217" width="7" height="44" fill="#EB4D5C"/>
<rect x="1118" y="244" width="1" height="57" fill="#EB4D5C" fill-opacity="0.5"/>
<rect x="1115" y="261" width="7" height="33" fill="#EB4D5C"/>
<rect x="1127" y="278" width="1" height="86" fill="#EB4D5C" fill-opacity="0.5"/>
<rect x="1124" y="293" width="7" height="47" fill="#EB4D5C"/>
<rect x="1136" y="321" width="1" height="56" fill="#53B987" fill-opacity="0.5"/>
<rect x="1133" y="326" width="7" height="14" fill="#53B987"/>
<rect x="1145" y="283" width="1" height="74" fill="#53B987" fill-opacity="0.5"/>
<rect x="1142" y="293" width="7" height="34" fill="#53B987"/>
<rect x="1154" y="275" width="1" height="28" fill="#53B987" fill-opacity="0.5"/>
<rect x="1151" y="287" width="7" height="7" fill="#53B987"/>
<rect x="1164" y="281" width="1" height="56" fill="#EB4D5C" fill-opacity="0.5"/>
<rect x="1161" y="287" width="7" height="3" fill="#EB4D5C"/>
<rect x="1173" y="272" width="1" height="20" fill="#53B987" fill-opacity="0.5"/>
<rect x="1170" y="280" width="7" height="10" fill="#53B987"/>
</g>
<line x1="0" y1="280.5" x2="1224" y2="280.5" stroke="#53B987" stroke-width="1" stroke-dasharray="1.8 1.2"/>
<rect x="0" y="548" width="1225" height="1" fill="#000" shape-rendering="crispEdges"/>
<g shape-rendering="crispEdges" fill="#555">
<rect x="1224" y="0" width="1" height="682"/>
<rect x="0" y="681" width="1225" height="1"/>
<rect x="1225" y="664" width="3" height="1"/>
<rect x="1225" y="635" width="3" height="1"/>
<rect x="1225" y="606" width="3" height="1"/>
<rect x="1225" y="577" width="3" height="1"/>
<rect x="1225" y="548" width="3" height="1"/>
<rect x="1225" y="519" width="3" height="1"/>
<rect x="1225" y="490" width="3" height="1"/>
<rect x="1225" y="460" width="3" height="1"/>
<rect x="1225" y="431" width="3" height="1"/>
<rect x="1225" y="402" width="3" height="1"/>
<rect x="1225" y="373" width="3" height="1"/>
<rect x="1225" y="344" width="3" height="1"/>
<rect x="1225" y="315" width="3" height="1"/>
<rect x="1225" y="286" width="3" height="1"/>
<rect x="1225" y="257" width="3" height="1"/>
<rect x="1225" y="227" width="3" height="1"/>
<rect x="1225" y="198" width="3" height="1"/>
<rect x="1225" y="169" width="3" height="1"/>
<rect x="1225" y="140" width="3" height="1"/>
<rect x="1225" y="111" width="3" height="1"/>
<rect x="1225" y="82" width="3" height="1"/>
<rect x="1225" y="53" width="3" height="1"/>
<rect x="1225" y="23" width="3" height="1"/>
<rect x="58" y="682" width="1" height="3"/>
<rect x="149" y="682" width="1" height="3"/>
<rect x="241" y="682" width="1" height="3"/>
<rect x="351" y="682" width="1" height="3"/>
<rect x="470" y="682" width="1" height="3"/>
<rect x="561" y="682" width="1" height="3"/>
<rect x="662" y="682" width="1" height="3"/>
<rect x="744" y="682" width="1" height="3"/>
<rect x="826" y="682" width="1" height="3"/>
<rect x="945" y="682" width="1" height="3"/>
<rect x="1027" y="682" width="1" height="3"/>
<rect x="1128" y="682" width="1" height="3"/>
</g>
<g font-family="Liberation Sans, Arial, sans-serif" font-size="11" fill="#4a4a4a" opacity="0.999">
<text x="1231" y="668.9">2400.0</text>
<text x="1231" y="639.9">2425.0</text>
<text x="1231" y="610.9">2450.0</text>
<text x="1231" y="581.9">2475.0</text>
<text x="1231" y="552.9">2500.0</text>
<text x="1231" y="523.9">2525.0</text>
<text x="1231" y="494.9">2550.0</text>
<text x="1231" y="464.9">2575.0</text>
<text x="1231" y="435.9">2600.0</text>
<text x="1231" y="406.9">2625.0</text>
<text x="1231" y="377.9">2650.0</text>
<text x="1231" y="348.9">2675.0</text>
<text x="1231" y="319.9">2700.0</text>
<text x="1231" y="290.9">2725.0</text>
<text x="1231" y="261.9">2750.0</text>
<text x="1231" y="231.9">2775.0</text>
<text x="1231" y="202.9">2800.0</text>
<text x="1231" y="173.9">2825.0</text>
<text x="1231" y="144.9">2850.0</text>
<text x="1231" y="115.9">2875.0</text>
<text x="1231" y="86.9">2900.0</text>
<text x="1231" y="57.9">2925.0</text>
<text x="1231" y="27.9">2950.0</text>
<text x="58.5" y="696" text-anchor="middle">18</text>
<text x="149.5" y="696" text-anchor="middle">Oct</text>
<text x="241.5" y="696" text-anchor="middle">16</text>
<text x="351.5" y="696" text-anchor="middle">Nov</text>
<text x="470.5" y="696" text-anchor="middle">20</text>
<text x="561.5" y="696" text-anchor="middle">Dec</text>
<text x="662.5" y="696" text-anchor="middle">18</text>
<text x="744.5" y="696" text-anchor="middle" font-weight="bold">2018</text>
<text x="826.5" y="696" text-anchor="middle">15</text>
<text x="945.5" y="696" text-anchor="middle">Feb</text>
<text x="1027.5" y="696" text-anchor="middle">14</text>
<text x="1128.5" y="696" text-anchor="middle">Mar</text>
</g>
<rect x="1224" y="273" width="44" height="16" fill="#53B987" shape-rendering="crispEdges"/>
<rect x="1224" y="280" width="3" height="1" fill="#fff" shape-rendering="crispEdges"/>
<text x="1231" y="284.8" font-family="Liberation Sans, Arial, sans-serif" font-size="11" fill="#fff">2730.1</text>
<rect x="1224" y="541" width="44" height="16" fill="#000" shape-rendering="crispEdges"/>
<rect x="1224" y="548" width="3" height="1" fill="#fff" shape-rendering="crispEdges"/>
<text x="1231" y="552.8" font-family="Liberation Sans, Arial, sans-serif" font-size="11" fill="#fff">2500.0</text>
<circle cx="1209.8" cy="14.7" r="7" fill="none" stroke="#F5913E" stroke-width="1.5"/>
<rect x="1209.2" y="10.6" width="1.2" height="5" fill="#F5913E"/><rect x="1209.2" y="17" width="1.2" height="1.4" fill="#F5913E"/>
<rect x="5.5" y="9.5" width="12" height="12" rx="2" fill="#fff" stroke="#444" stroke-width="1"/>
<rect x="7.5" y="15" width="8" height="1" fill="#444"/>
<text y="22.7" font-family="Liberation Sans, Arial, sans-serif" font-size="16" fill="#3c3c3c" stroke="#3c3c3c" stroke-width="0.25"><tspan x="24.3" textLength="88.6" lengthAdjust="spacingAndGlyphs">US SPX 500,</tspan> <tspan x="119.3" textLength="23.5" lengthAdjust="spacingAndGlyphs">1D,</tspan> <tspan x="148.5" textLength="52.6" lengthAdjust="spacingAndGlyphs">OANDA</tspan></text>
<path d="M206 14.5 h7 l-3.5 3.2 z" fill="#BDBDBD"/>
<rect x="224" y="10.5" width="14" height="14" fill="#D8D3D3"/>
<path d="M225.6 17.5 Q228.4 12.9 231 12.9 Q233.6 12.9 236.4 17.5 Q233.6 22.1 231 22.1 Q228.4 22.1 225.6 17.5 Z" fill="#fff"/><circle cx="231" cy="17.5" r="1.9" fill="#D0CACA"/>
<rect x="241" y="10.5" width="14" height="14" fill="#D8D3D3"/>
<circle cx="248" cy="17.5" r="3.1" fill="none" stroke="#fff" stroke-width="2.4"/>
<line x1="251.60" y1="17.50" x2="253.40" y2="17.50" stroke="#fff" stroke-width="2.3"/>
<line x1="250.55" y1="20.05" x2="251.82" y2="21.32" stroke="#fff" stroke-width="2.3"/>
<line x1="248.00" y1="21.10" x2="248.00" y2="22.90" stroke="#fff" stroke-width="2.3"/>
<line x1="245.45" y1="20.05" x2="244.18" y2="21.32" stroke="#fff" stroke-width="2.3"/>
<line x1="244.40" y1="17.50" x2="242.60" y2="17.50" stroke="#fff" stroke-width="2.3"/>
<line x1="245.45" y1="14.95" x2="244.18" y2="13.68" stroke="#fff" stroke-width="2.3"/>
<line x1="248.00" y1="13.90" x2="248.00" y2="12.10" stroke="#fff" stroke-width="2.3"/>
<line x1="250.55" y1="14.95" x2="251.82" y2="13.68" stroke="#fff" stroke-width="2.3"/>
<text x="263.2" y="21.7" font-family="Liberation Sans, Arial, sans-serif" font-size="15" fill="#444" textLength="10" lengthAdjust="spacingAndGlyphs">O</text>
<text x="275.3" y="21.7" font-family="Liberation Sans, Arial, sans-serif" font-size="15" fill="#53B987" textLength="45.2" lengthAdjust="spacingAndGlyphs">2721.9</text>
<text x="331" y="21.7" font-family="Liberation Sans, Arial, sans-serif" font-size="15" fill="#444" textLength="9.5" lengthAdjust="spacingAndGlyphs">H</text>
<text x="343" y="21.7" font-family="Liberation Sans, Arial, sans-serif" font-size="15" fill="#53B987" textLength="44.5" lengthAdjust="spacingAndGlyphs">2736.9</text>
<text x="399" y="21.7" font-family="Liberation Sans, Arial, sans-serif" font-size="15" fill="#444" textLength="7.5" lengthAdjust="spacingAndGlyphs">L</text>
<text x="409" y="21.7" font-family="Liberation Sans, Arial, sans-serif" font-size="15" fill="#53B987" textLength="45" lengthAdjust="spacingAndGlyphs">2720.0</text>
<text x="465" y="21.7" font-family="Liberation Sans, Arial, sans-serif" font-size="15" fill="#444" textLength="9.5" lengthAdjust="spacingAndGlyphs">C</text>
<text x="476.5" y="21.7" font-family="Liberation Sans, Arial, sans-serif" font-size="15" fill="#53B987" textLength="44.5" lengthAdjust="spacingAndGlyphs">2730.1</text>
<text x="5.3" y="42.4" font-family="Liberation Sans, Arial, sans-serif" font-size="12" fill="#444" textLength="39.5" lengthAdjust="spacingAndGlyphs">Vol (20)</text>
<path d="M49.5 36.8 h7 l-3.5 3.2 z" fill="#BDBDBD"/>
<rect x="67" y="32" width="14" height="14" fill="#D8D3D3"/>
<path d="M68.6 39 Q71.4 34.4 74 34.4 Q76.6 34.4 79.4 39 Q76.6 43.6 74 43.6 Q71.4 43.6 68.6 39 Z" fill="#fff"/><circle cx="74" cy="39" r="1.9" fill="#D0CACA"/>
<rect x="84" y="32" width="14" height="14" fill="#D8D3D3"/>
<circle cx="91" cy="39" r="3.1" fill="none" stroke="#fff" stroke-width="2.4"/>
<line x1="94.60" y1="39.00" x2="96.40" y2="39.00" stroke="#fff" stroke-width="2.3"/>
<line x1="93.55" y1="41.55" x2="94.82" y2="42.82" stroke="#fff" stroke-width="2.3"/>
<line x1="91.00" y1="42.60" x2="91.00" y2="44.40" stroke="#fff" stroke-width="2.3"/>
<line x1="88.45" y1="41.55" x2="87.18" y2="42.82" stroke="#fff" stroke-width="2.3"/>
<line x1="87.40" y1="39.00" x2="85.60" y2="39.00" stroke="#fff" stroke-width="2.3"/>
<line x1="88.45" y1="36.45" x2="87.18" y2="35.18" stroke="#fff" stroke-width="2.3"/>
<line x1="91.00" y1="35.40" x2="91.00" y2="33.60" stroke="#fff" stroke-width="2.3"/>
<line x1="93.55" y1="36.45" x2="94.82" y2="35.18" stroke="#fff" stroke-width="2.3"/>
<rect x="101" y="32" width="14" height="14" fill="#D8D3D3"/>
<rect x="103.8" y="37.7" width="8.4" height="2.6" fill="#fff"/><rect x="106.7" y="34.8" width="2.6" height="8.4" fill="#fff"/>
<rect x="118" y="32" width="14" height="14" fill="#D8D3D3"/>
<path d="M120.8 34.8 L129.2 43.2 M129.2 34.8 L120.8 43.2" stroke="#fff" stroke-width="2.2" fill="none"/>
<text x="139.8" y="42.6" font-family="Liberation Sans, Arial, sans-serif" font-size="12" fill="#333" textLength="40.6" lengthAdjust="spacingAndGlyphs">25.758K</text>
<text x="192" y="42.6" font-family="Liberation Sans, Arial, sans-serif" font-size="12" fill="#F5913E" textLength="45.3" lengthAdjust="spacingAndGlyphs">105.795K</text>
<text x="5.3" y="63.2" font-family="Liberation Sans, Arial, sans-serif" font-size="12" fill="#444" textLength="88.3" lengthAdjust="spacingAndGlyphs">BB (20, close, 2)</text>
<path d="M98.5 57.2 h7 l-3.5 3.2 z" fill="#BDBDBD"/>
<rect x="116" y="52.7" width="14" height="14" fill="#D8D3D3"/>
<path d="M117.6 59.7 Q120.4 55.1 123 55.1 Q125.6 55.1 128.4 59.7 Q125.6 64.3 123 64.3 Q120.4 64.3 117.6 59.7 Z" fill="#fff"/><circle cx="123" cy="59.7" r="1.9" fill="#D0CACA"/>
<rect x="133" y="52.7" width="14" height="14" fill="#D8D3D3"/>
<circle cx="140" cy="59.7" r="3.1" fill="none" stroke="#fff" stroke-width="2.4"/>
<line x1="143.60" y1="59.70" x2="145.40" y2="59.70" stroke="#fff" stroke-width="2.3"/>
<line x1="142.55" y1="62.25" x2="143.82" y2="63.52" stroke="#fff" stroke-width="2.3"/>
<line x1="140.00" y1="63.30" x2="140.00" y2="65.10" stroke="#fff" stroke-width="2.3"/>
<line x1="137.45" y1="62.25" x2="136.18" y2="63.52" stroke="#fff" stroke-width="2.3"/>
<line x1="136.40" y1="59.70" x2="134.60" y2="59.70" stroke="#fff" stroke-width="2.3"/>
<line x1="137.45" y1="57.15" x2="136.18" y2="55.88" stroke="#fff" stroke-width="2.3"/>
<line x1="140.00" y1="56.10" x2="140.00" y2="54.30" stroke="#fff" stroke-width="2.3"/>
<line x1="142.55" y1="57.15" x2="143.82" y2="55.88" stroke="#fff" stroke-width="2.3"/>
<rect x="150" y="52.7" width="14" height="14" fill="#D8D3D3"/>
<rect x="152.8" y="58.400000000000006" width="8.4" height="2.6" fill="#fff"/><rect x="155.7" y="55.5" width="2.6" height="8.4" fill="#fff"/>
<rect x="167" y="52.7" width="14" height="14" fill="#D8D3D3"/>
<path d="M169.8 55.5 L178.2 63.900000000000006 M178.2 55.5 L169.8 63.900000000000006" stroke="#fff" stroke-width="2.2" fill="none"/>
<text x="189.4" y="63.4" font-family="Liberation Sans, Arial, sans-serif" font-size="12" fill="#872323" textLength="51" lengthAdjust="spacingAndGlyphs">2710.4625</text>
<text x="251.6" y="63.4" font-family="Liberation Sans, Arial, sans-serif" font-size="12" fill="#1E8A98" textLength="50.6" lengthAdjust="spacingAndGlyphs">2782.5075</text>
<text x="313.5" y="63.4" font-family="Liberation Sans, Arial, sans-serif" font-size="12" fill="#1E8A98" textLength="50.6" lengthAdjust="spacingAndGlyphs">2638.4175</text>
<rect x="0" y="700" width="1269" height="22" fill="#E4E6E9" shape-rendering="crispEdges"/>
<rect x="0" y="722" width="1269" height="5" fill="#EDEFF2" shape-rendering="crispEdges"/>
<rect x="1268" y="0" width="1" height="700" fill="#E4E6E9" shape-rendering="crispEdges"/>
<text x="13.0" y="715.9" font-family="Liberation Sans, Arial, sans-serif" font-size="13" fill="#848484" textLength="13" lengthAdjust="spacingAndGlyphs">1d</text>
<text x="52.0" y="715.9" font-family="Liberation Sans, Arial, sans-serif" font-size="13" fill="#848484" textLength="13" lengthAdjust="spacingAndGlyphs">5d</text>
<text x="90.8" y="715.9" font-family="Liberation Sans, Arial, sans-serif" font-size="13" fill="#848484" textLength="16" lengthAdjust="spacingAndGlyphs">1m</text>
<text x="131.7" y="715.9" font-family="Liberation Sans, Arial, sans-serif" font-size="13" fill="#848484" textLength="16" lengthAdjust="spacingAndGlyphs">3m</text>
<text x="172.2" y="715.9" font-family="Liberation Sans, Arial, sans-serif" font-size="13" fill="#848484" textLength="16" lengthAdjust="spacingAndGlyphs">6m</text>
<text x="213.5" y="715.9" font-family="Liberation Sans, Arial, sans-serif" font-size="13" fill="#848484" textLength="23" lengthAdjust="spacingAndGlyphs">YTD</text>
<text x="261.9" y="715.9" font-family="Liberation Sans, Arial, sans-serif" font-size="13" fill="#848484" textLength="12" lengthAdjust="spacingAndGlyphs">1y</text>
<text x="301.4" y="715.9" font-family="Liberation Sans, Arial, sans-serif" font-size="13" fill="#848484" textLength="12" lengthAdjust="spacingAndGlyphs">5y</text>
<text x="339.5" y="715.9" font-family="Liberation Sans, Arial, sans-serif" font-size="13" fill="#848484" textLength="15" lengthAdjust="spacingAndGlyphs">All</text>
<text x="379.6" y="715.9" font-family="Liberation Sans, Arial, sans-serif" font-size="13" fill="#848484" textLength="40" lengthAdjust="spacingAndGlyphs">Go to...</text>
<rect x="38" y="704" width="1" height="14" fill="#B9BBBE" shape-rendering="crispEdges"/>
<rect x="77" y="704" width="1" height="14" fill="#B9BBBE" shape-rendering="crispEdges"/>
<rect x="118" y="704" width="1" height="14" fill="#B9BBBE" shape-rendering="crispEdges"/>
<rect x="159" y="704" width="1" height="14" fill="#B9BBBE" shape-rendering="crispEdges"/>
<rect x="200" y="704" width="1" height="14" fill="#B9BBBE" shape-rendering="crispEdges"/>
<rect x="248" y="704" width="1" height="14" fill="#B9BBBE" shape-rendering="crispEdges"/>
<rect x="287" y="704" width="1" height="14" fill="#B9BBBE" shape-rendering="crispEdges"/>
<rect x="326" y="704" width="1" height="14" fill="#B9BBBE" shape-rendering="crispEdges"/>
<rect x="366" y="704" width="1" height="14" fill="#B9BBBE" shape-rendering="crispEdges"/>
<text x="970.0" y="715.9" font-family="Liberation Sans, Arial, sans-serif" font-size="13" fill="#848484" textLength="74.4" lengthAdjust="spacingAndGlyphs">19:42:14 (UTC)</text>
<text x="1071.2" y="715.9" font-family="Liberation Sans, Arial, sans-serif" font-size="13" fill="#848484" textLength="17.5" lengthAdjust="spacingAndGlyphs">ext</text>
<text x="1114.7" y="715.9" font-family="Liberation Sans, Arial, sans-serif" font-size="13" fill="#848484" textLength="8" lengthAdjust="spacingAndGlyphs">%</text>
<text x="1149.0" y="715.9" font-family="Liberation Sans, Arial, sans-serif" font-size="13" fill="#848484" textLength="15.5" lengthAdjust="spacingAndGlyphs">log</text>
<text x="1191.2" y="715.9" font-family="Liberation Sans, Arial, sans-serif" font-size="13" fill="#4FB0DE" textLength="24" lengthAdjust="spacingAndGlyphs">auto</text>
<rect x="1057" y="704" width="1" height="14" fill="#B9BBBE" shape-rendering="crispEdges"/>
<rect x="1101" y="704" width="1" height="14" fill="#B9BBBE" shape-rendering="crispEdges"/>
<rect x="1135" y="704" width="1" height="14" fill="#B9BBBE" shape-rendering="crispEdges"/>
<rect x="1177" y="704" width="1" height="14" fill="#B9BBBE" shape-rendering="crispEdges"/>
<rect x="1227" y="704" width="1" height="14" fill="#B9BBBE" shape-rendering="crispEdges"/>
<circle cx="1248.3" cy="711" r="3.7" fill="none" stroke="#868686" stroke-width="1.5"/>
<line x1="1252.50" y1="711.00" x2="1254.50" y2="711.00" stroke="#868686" stroke-width="1.7"/>
<line x1="1251.27" y1="713.97" x2="1252.68" y2="715.38" stroke="#868686" stroke-width="1.7"/>
<line x1="1248.30" y1="715.20" x2="1248.30" y2="717.20" stroke="#868686" stroke-width="1.7"/>
<line x1="1245.33" y1="713.97" x2="1243.92" y2="715.38" stroke="#868686" stroke-width="1.7"/>
<line x1="1244.10" y1="711.00" x2="1242.10" y2="711.00" stroke="#868686" stroke-width="1.7"/>
<line x1="1245.33" y1="708.03" x2="1243.92" y2="706.62" stroke="#868686" stroke-width="1.7"/>
<line x1="1248.30" y1="706.80" x2="1248.30" y2="704.80" stroke="#868686" stroke-width="1.7"/>
<line x1="1251.27" y1="708.03" x2="1252.68" y2="706.62" stroke="#868686" stroke-width="1.7"/>
</svg>
</body></html>
